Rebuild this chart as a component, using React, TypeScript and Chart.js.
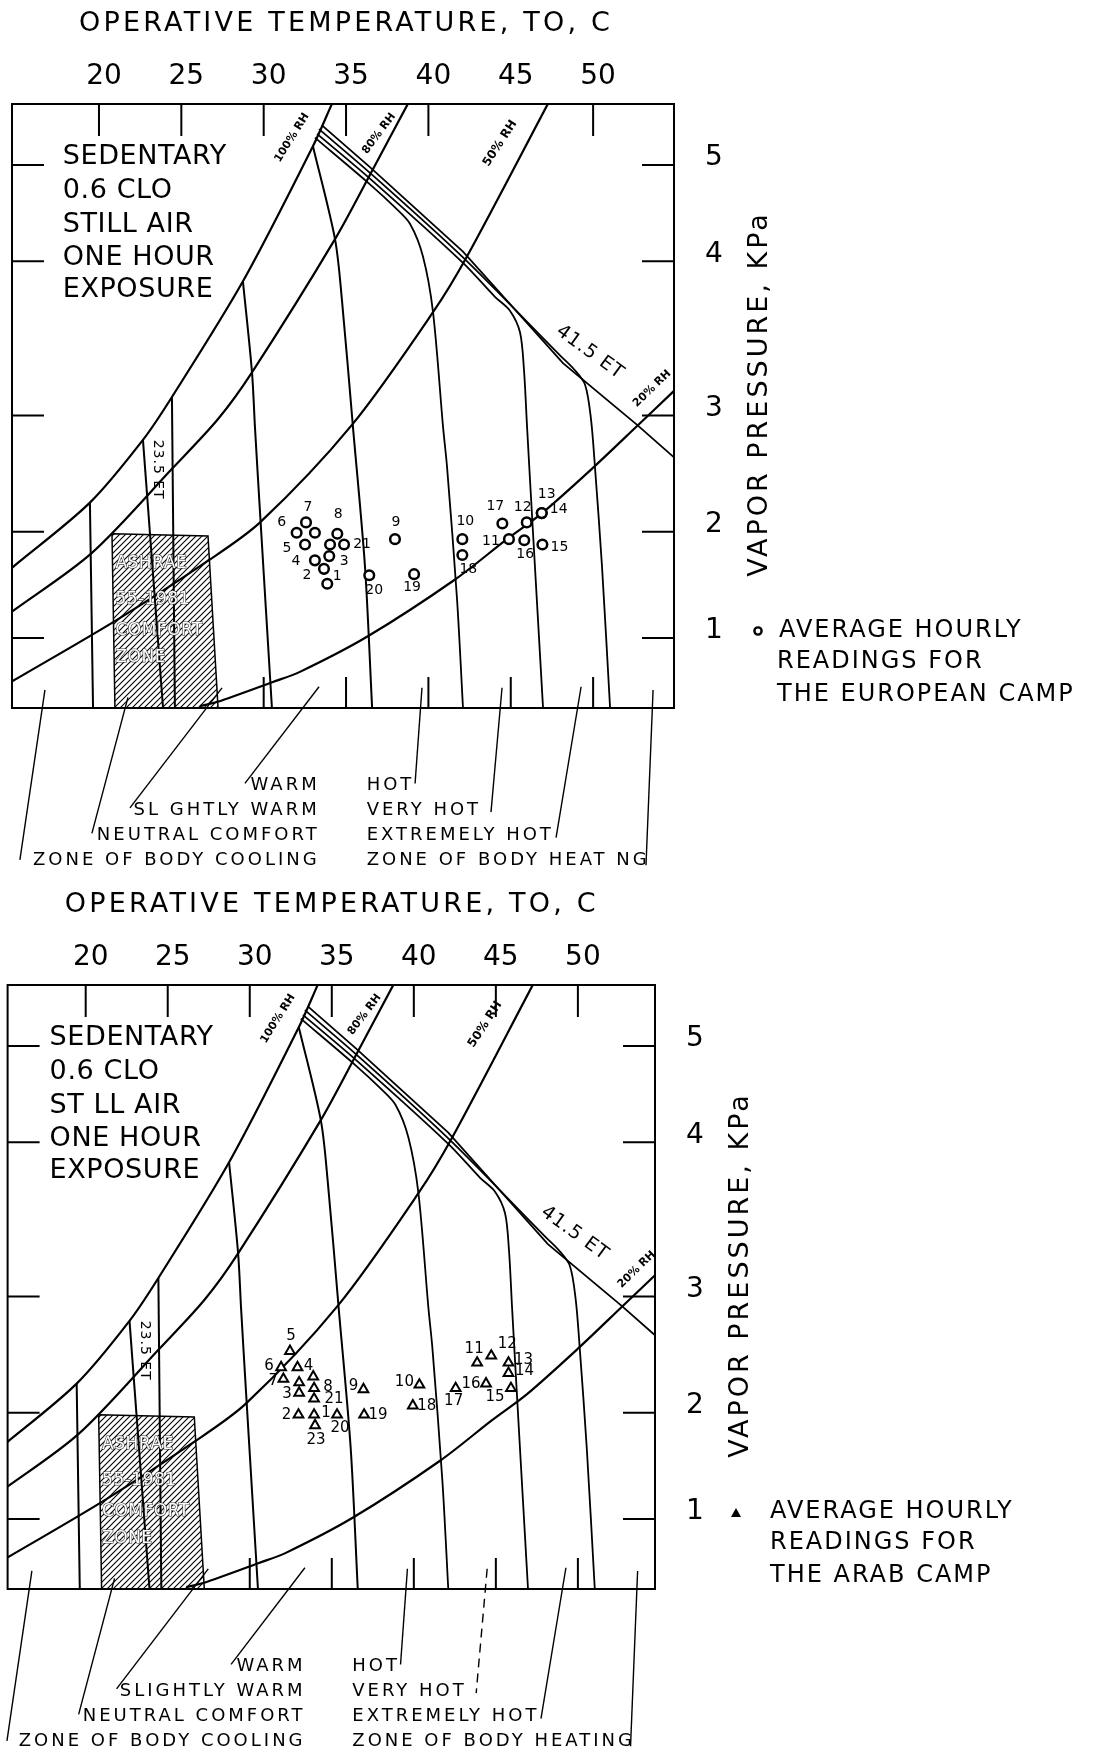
import React, { useEffect, useRef } from 'react';
import { Chart, LinearScale, registerables } from 'chart.js';

// ---------------- axis values ----------------
const TEMP_TICK_LABELS = [20, 25, 30, 35, 40, 45, 50];
const TOP_TICKS_EU = [20, 25, 30, 35, 40, 50];
const TOP_TICKS_AR = [20, 25, 30, 35, 40, 45, 50];
const BOTTOM_TICKS = [30, 35, 40, 45, 50];
const VP_TICKS = [5, 4, 3, 2, 1];
// the printed vapour-pressure axis is not evenly spaced: value (kPa) -> fraction of box height
const VP_KNOT_VALUES = [0.34, 1, 2, 3, 4, 5, 5.646];
const VP_KNOT_FRACTIONS = [0, 0.1161, 0.2919, 0.4842, 0.7396, 0.8988, 1];

// ---------------- chart curves [temperature C, vapour pressure kPa] ----------------
const RH_100 = [[34.15, 5.65], [32.99, 5.2], [28.74, 3.87], [24.43, 3.12], [22.67, 2.79], [19.45, 2.25], [14.72, 1.66]];
const RH_80 = [[38.76, 5.65], [36.64, 4.96], [34.33, 4.23], [29.29, 3.28], [27.23, 2.97], [24.49, 2.55], [19.57, 1.8], [14.66, 1.24]];
const RH_50 = [[47.26, 5.65], [42.34, 4.05], [40.28, 3.67], [35.36, 2.92], [29.78, 2.08], [26.56, 1.72], [21.09, 1.17], [14.66, 0.585]];
const RH_20 = [[54.91, 3.16], [52.67, 2.91], [49.99, 2.55], [46.9, 2.16], [44.77, 1.93], [41.62, 1.55], [36.27, 1.01], [32.2, 0.68], [30.56, 0.585], [27.16, 0.396], [26.13, 0.358]];
const ET_415 = [[33.54, 5.42], [36.45, 4.98], [42.1, 4.1], [48.17, 3.34], [52.67, 2.92], [54.91, 2.64]];
const ET_A = [[19.45, 2.25], [19.64, 0.34]];
const ET_235 = [[22.67, 2.79], [23.89, 0.34]];
const ET_C = [[24.43, 3.12], [24.61, 0.34]];
const ET_D = [[28.74, 3.87], [29.29, 3.28], [29.47, 2.9], [29.78, 2.16], [30.5, 0.34]];
const ET_E = [[32.99, 5.2], [34.33, 4.23], [34.75, 3.75], [35.42, 2.9], [36.15, 1.67], [36.58, 0.35]];
const ET_F = [[33.11, 5.29], [36.45, 4.8], [37.97, 4.56], [38.88, 4.39], [39.67, 4.05], [40.28, 3.67], [40.89, 2.9], [41.13, 2.56], [41.74, 1.36], [42.1, 0.34]];
const ET_G = [[33.24, 5.33], [36.45, 4.86], [42.1, 3.99], [44.04, 3.77], [44.95, 3.68], [45.56, 3.54], [45.8, 3.3], [45.99, 2.9], [46.35, 1.99], [46.96, 0.34]];
const ET_H = [[33.36, 5.38], [36.45, 4.92], [42.1, 4.04], [47.99, 3.39], [48.84, 3.3], [49.51, 3.2], [49.87, 2.97], [50.11, 2.56], [50.54, 1.67], [51.03, 0.34]];
const COMFORT_ZONE = [[20.79, 1.98], [26.62, 1.96], [27.23, 0.34], [20.97, 0.34], [20.79, 1.98]];
const LEAD_COOLING = [[16.72, 0.51], [15.2, -1.09]];
const LEAD_NEUTRAL = [[21.76, 0.44], [19.57, -0.84]];
const LEAD_SLIGHTLY = [[27.47, 0.53], [21.88, -0.6]];
const LEAD_WARM = [[33.36, 0.54], [28.86, -0.37]];
const LEAD_HOT = [[39.61, 0.53], [39.19, -0.37]];
const LEAD_VERYHOT = [[44.47, 0.53], [43.8, -0.64]];
const LEAD_EXTREME = [[49.27, 0.54], [47.75, -0.88]];
const LEAD_HEATING = [[53.64, 0.51], [53.21, -1.14]];

// ---------------- hourly readings ----------------
const EU_LABELS = ['1', '2', '3', '4', '5', '6', '7', '8', '9', '10', '11', '12', '13', '14', '15', '16', '17', '18', '19', '20', '21', '', ''];
const EU_TEMP = [33.86, 33.66, 33.98, 33.11, 32.51, 32.0, 32.57, 34.47, 37.97, 42.06, 44.89, 45.97, 46.88, 46.88, 46.92, 45.82, 44.49, 42.06, 39.13, 36.41, 34.88, 33.11, 34.03];
const EU_VP = [1.51, 1.65, 1.77, 1.73, 1.88, 1.99, 2.08, 1.98, 1.93, 1.93, 1.93, 2.08, 2.16, 2.16, 1.88, 1.92, 2.07, 1.78, 1.6, 1.59, 1.88, 1.99, 1.88];
const AR_LABELS = ['1', '2', '3', '4', '5', '6', '7', '8', '9', '10', '11', '12', '13', '14', '15', '16', '17', '18', '19', '20', '21', '23', '', ''];
const AR_TEMP = [33.92, 32.97, 33.01, 32.91, 32.45, 31.91, 32.05, 33.92, 36.93, 40.34, 43.86, 44.72, 45.77, 45.77, 45.92, 44.4, 42.55, 39.94, 36.97, 35.32, 33.92, 33.98, 33.01, 33.87];
const AR_VP = [1.98, 1.98, 2.17, 2.39, 2.53, 2.39, 2.29, 2.21, 2.2, 2.24, 2.43, 2.49, 2.43, 2.34, 2.21, 2.25, 2.21, 2.06, 1.98, 1.98, 2.12, 1.88, 2.26, 2.31];

// ---------------- texts ----------------
const TITLE = 'OPERATIVE TEMPERATURE, TO, C';
const Y_TITLE = 'VAPOR PRESSURE, KPa';
const SEDENTARY_EU = ['SEDENTARY', '0.6 CLO', 'STILL AIR', 'ONE HOUR', 'EXPOSURE'];
const SEDENTARY_AR = ['SEDENTARY', '0.6 CLO', 'ST LL AIR', 'ONE HOUR', 'EXPOSURE'];
const COOL_EU = ['WARM', 'SL GHTLY WARM', 'NEUTRAL COMFORT', 'ZONE OF BODY COOLING'];
const HEAT_EU = ['HOT', 'VERY HOT', 'EXTREMELY HOT', 'ZONE OF BODY HEAT NG'];
const COOL_AR = ['WARM', 'SLIGHTLY WARM', 'NEUTRAL COMFORT', 'ZONE OF BODY COOLING'];
const HEAT_AR = ['HOT', 'VERY HOT', 'EXTREMELY HOT', 'ZONE OF BODY HEATING'];
const LEGEND_EU = ['AVERAGE HOURLY', 'READINGS FOR', 'THE EUROPEAN CAMP'];
const LEGEND_AR = ['AVERAGE HOURLY', 'READINGS FOR', 'THE ARAB CAMP'];
const COMFORT_TEXT = ['ASHRAE', '55-1981', 'COMFORT', 'ZONE'];

// ---------------- label placement (px offsets, styling only) ----------------
const EU_LABEL_DX = [10, -17, 15, -19, -18, -15, 2, 1, 1, 3, -18, -4, 5, 17, 17, 1, -7, 6, -2, 5, 18, 0, 0];
const EU_LABEL_DY = [-7, 7, 5, 1, 4, -10, -15, -19, -17, -18, 2, -15, -19, -4, 3, 14, -17, 14, 13, 15, 0, 0, 0];
const AR_LABEL_DX = [12, -12, -12, 11, 1, -12, -10, 14, -10, -15, -3, 16, 15, 16, -16, -15, -2, 14, 14, 3, 20, 1, 0, 0];
const AR_LABEL_DY = [-2, 0, 1, -1, -15, -1, 2, -1, -3, -3, -14, -12, -3, -2, 9, 0, 13, 0, 0, 13, 0, 15, 0, 0];

const FONT = "'DejaVu Sans', 'Liberation Sans', sans-serif";

function vpToFraction(v: number): number {
  const V = VP_KNOT_VALUES, F = VP_KNOT_FRACTIONS;
  let i = 0;
  if (v >= V[V.length - 1]) i = V.length - 2;
  else if (v > V[0]) { while (v > V[i + 1]) i++; }
  return F[i] + ((v - V[i]) * (F[i + 1] - F[i])) / (V[i + 1] - V[i]);
}
function fractionToVp(f: number): number {
  const V = VP_KNOT_VALUES, F = VP_KNOT_FRACTIONS;
  let i = 0;
  if (f >= F[F.length - 1]) i = F.length - 2;
  else if (f > F[0]) { while (f > F[i + 1]) i++; }
  return V[i] + ((f - F[i]) * (V[i + 1] - V[i])) / (F[i + 1] - F[i]);
}

class VaporPressureScale extends LinearScale {
  static id = 'vapor';
  getPixelForValue(value: number) {
    return (this as any).getPixelForDecimal(vpToFraction(value));
  }
  getValueForPixel(pixel: number) {
    return fractionToVp((this as any).getDecimalForPixel(pixel));
  }
}
Chart.register(...registerables, VaporPressureScale as any);

type Spec = {
  key: string; top: number; height: number;
  padding: { left: number; top: number; right: number; bottom: number };
  xMin: number; xMax: number; topTicks: number[];
  temp: number[]; vp: number[]; labels: string[]; dx: number[]; dy: number[];
  pointStyle: string; labelFont: number;
  sedentary: string[]; cool: string[]; heat: string[];
  legend: string[]; legendSymbolX: number; legendTextX: number[];
  dashedVeryHot: boolean;
};

const SPEC_EU: Spec = {
  key: 'eu', top: 0, height: 880,
  padding: { left: 12, top: 104, right: 422, bottom: 172 },
  xMin: 14.72, xMax: 54.91, topTicks: TOP_TICKS_EU,
  temp: EU_TEMP, vp: EU_VP, labels: EU_LABELS, dx: EU_LABEL_DX, dy: EU_LABEL_DY,
  pointStyle: 'circle', labelFont: 14,
  sedentary: SEDENTARY_EU, cool: COOL_EU, heat: HEAT_EU,
  legend: LEGEND_EU, legendSymbolX: 758, legendTextX: [779, 777, 777],
  dashedVeryHot: false,
};
const SPEC_AR: Spec = {
  key: 'ar', top: 880, height: 877,
  padding: { left: 0, top: 105, right: 441, bottom: 168 },
  xMin: 15.24, xMax: 54.7, topTicks: TOP_TICKS_AR,
  temp: AR_TEMP, vp: AR_VP, labels: AR_LABELS, dx: AR_LABEL_DX, dy: AR_LABEL_DY,
  pointStyle: 'triangle', labelFont: 15,
  sedentary: SEDENTARY_AR, cool: COOL_AR, heat: HEAT_AR,
  legend: LEGEND_AR, legendSymbolX: 736, legendTextX: [770, 770, 770],
  dashedVeryHot: true,
};

const toXY = (pts: number[][]) => pts.map(([x, y]) => ({ x, y }));

function curve(pts: number[][], extra: any = {}) {
  return {
    data: toXY(pts), showLine: true, pointRadius: 0, borderColor: '#000',
    borderWidth: 2, tension: 0.3, fill: false, ...extra,
  };
}

function text(ctx: CanvasRenderingContext2D, s: string, x: number, y: number, o: any = {}) {
  ctx.save();
  ctx.translate(x, y);
  if (o.rot) ctx.rotate((o.rot * Math.PI) / 180);
  ctx.font = `${o.weight || 'normal'} ${o.size || 16}px ${FONT}`;
  ctx.textAlign = o.align || 'left';
  ctx.textBaseline = 'middle';
  (ctx as any).letterSpacing = `${o.ls || 0}px`;
  if (o.stroke) {
    ctx.lineWidth = o.strokeWidth || 1;
    ctx.strokeStyle = o.stroke;
    ctx.strokeText(s, 0, 0);
  }
  ctx.fillStyle = o.fill || '#000';
  ctx.fillText(s, 0, 0);
  ctx.restore();
}

function makeOverlay(spec: Spec) {
  return {
    id: 'overlay_' + spec.key,
    afterDraw(chart: any) {
      const ctx: CanvasRenderingContext2D = chart.ctx;
      const { left, top, right, bottom } = chart.chartArea;
      const X = (t: number) => chart.scales.x.getPixelForValue(t);
      const Y = (v: number) => chart.scales.y.getPixelForValue(v);
      ctx.save();
      ctx.strokeStyle = '#000';
      ctx.lineWidth = 2;
      ctx.strokeRect(left, top, right - left, bottom - top);
      ctx.beginPath();
      spec.topTicks.forEach((t) => { ctx.moveTo(X(t), top); ctx.lineTo(X(t), top + 32); });
      BOTTOM_TICKS.forEach((t) => { ctx.moveTo(X(t), bottom); ctx.lineTo(X(t), bottom - 31); });
      VP_TICKS.forEach((v) => {
        ctx.moveTo(left, Y(v)); ctx.lineTo(left + 32, Y(v));
        ctx.moveTo(right, Y(v)); ctx.lineTo(right - 32, Y(v));
      });
      ctx.stroke();

      // axis titles and tick labels
      text(ctx, TITLE, X(35), top - 80, { size: 27, ls: 3.2, align: 'center' });
      TEMP_TICK_LABELS.forEach((t) => text(ctx, String(t), X(t) + 5, top - 27, { size: 28, align: 'center' }));
      VP_TICKS.forEach((v) => text(ctx, String(v), right + 40, Y(v) - 7, { size: 28, align: 'center' }));
      text(ctx, Y_TITLE, right + 86, top + 290, { size: 27, ls: 3, align: 'center', rot: -90 });

      // conditions block
      spec.sedentary.forEach((s, i) => text(ctx, s, X(17.8), top + [53, 87, 121, 154, 186][i], { size: 27, ls: 0.6 }));

      // comfort zone caption
      COMFORT_TEXT.forEach((s, i) => text(ctx, s, X(21.0), Y([1.7, 1.36, 1.07, 0.81][i]), {
        size: 17, ls: 0.5, fill: '#fff', stroke: '#333', strokeWidth: 1.2,
      }));

      // curve names
      text(ctx, '100% RH', X(31.72), Y(5.29), { size: 11, rot: -58, align: 'center', weight: 'bold' });
      text(ctx, '80% RH', X(37.0), Y(5.333), { size: 11, rot: -53, align: 'center', weight: 'bold' });
      text(ctx, '50% RH', X(44.35), Y(5.23), { size: 12, rot: -57, align: 'center', weight: 'bold' });
      text(ctx, '20% RH', X(53.58), Y(3.175), { size: 11, rot: -44, align: 'center', weight: 'bold' });
      text(ctx, '41.5 ET', X(49.81), Y(3.409), { size: 19, rot: 36, align: 'center', ls: 1 });
      text(ctx, '23.5 ET', X(23.58), Y(2.534), { size: 14, rot: 90, align: 'center', ls: 1 });

      // sensation scale captions
      spec.cool.forEach((s, i) => text(ctx, s, X(33.4), bottom + [77, 102, 127, 152][i], { size: 18, ls: 3, align: 'right' }));
      spec.heat.forEach((s, i) => text(ctx, s, X(36.25), bottom + [77, 102, 127, 152][i], { size: 18, ls: 3 }));

      // reading labels
      spec.labels.forEach((s, i) => {
        if (!s) return;
        text(ctx, s, X(spec.temp[i]) + spec.dx[i], Y(spec.vp[i]) + spec.dy[i], { size: spec.labelFont, align: 'center' });
      });

      // legend
      const ly = [527, 558, 591];
      ctx.lineWidth = 2.4;
      ctx.strokeStyle = '#000';
      ctx.fillStyle = '#000';
      ctx.beginPath();
      if (spec.pointStyle === 'circle') {
        ctx.arc(spec.legendSymbolX, top + ly[0], 3.6, 0, Math.PI * 2);
        ctx.stroke();
      } else {
        const cx = spec.legendSymbolX, cy = top + ly[0] + 1;
        ctx.moveTo(cx, cy - 5); ctx.lineTo(cx + 5, cy + 4); ctx.lineTo(cx - 5, cy + 4); ctx.closePath();
        ctx.fill();
      }
      spec.legend.forEach((s, i) => text(ctx, s, spec.legendTextX[i], top + ly[i], { size: 24, ls: 2 }));
      ctx.restore();
    },
  };
}

function buildConfig(spec: Spec, pattern: any) {
  const leaderStyle = { borderWidth: 1.4, tension: 0, clip: false };
  const isCircle = spec.pointStyle === 'circle';
  const datasets: any[] = [
    {
      data: spec.temp.map((t, i) => ({ x: t, y: spec.vp[i] })),
      showLine: false,
      pointStyle: spec.pointStyle,
      pointRadius: isCircle ? 4.8 : 5.6,
      pointBorderWidth: isCircle ? 2.5 : 2.0,
      pointBorderColor: '#000',
      pointBackgroundColor: '#fff',
    },
    curve(RH_100, { borderWidth: 2.2 }),
    curve(RH_80, { borderWidth: 2.2 }),
    curve(RH_50, { borderWidth: 2.2 }),
    curve(RH_20, { borderWidth: 2.2 }),
    curve(ET_415, { tension: 0, borderWidth: 1.8 }),
    curve(ET_A, { tension: 0 }),
    curve(ET_235, { tension: 0 }),
    curve(ET_C, { tension: 0 }),
    curve(ET_D),
    curve(ET_E),
    curve(ET_F, { borderWidth: 1.8 }),
    curve(ET_G, { borderWidth: 1.8 }),
    curve(ET_H, { borderWidth: 1.8 }),
    curve(LEAD_COOLING, leaderStyle),
    curve(LEAD_NEUTRAL, leaderStyle),
    curve(LEAD_SLIGHTLY, leaderStyle),
    curve(LEAD_WARM, leaderStyle),
    curve(LEAD_HOT, leaderStyle),
    curve(LEAD_VERYHOT, { ...leaderStyle, borderDash: spec.dashedVeryHot ? [9, 6] : [] }),
    curve(LEAD_EXTREME, leaderStyle),
    curve(LEAD_HEATING, leaderStyle),
    curve(COMFORT_ZONE, { tension: 0, borderWidth: 1.5, fill: 'shape', backgroundColor: pattern }),
  ];
  return {
    type: 'scatter',
    data: { datasets },
    options: {
      responsive: false,
      maintainAspectRatio: false,
      animation: false,
      devicePixelRatio: 1,
      events: [],
      layout: { padding: spec.padding },
      plugins: { legend: { display: false }, tooltip: { enabled: false }, title: { display: false } },
      scales: {
        x: { type: 'linear', min: spec.xMin, max: spec.xMax, display: false },
        y: { type: 'vapor', min: VP_KNOT_VALUES[0], max: VP_KNOT_VALUES[VP_KNOT_VALUES.length - 1], display: false },
      },
    },
    plugins: [makeOverlay(spec)],
  };
}

function hatch() {
  const c = document.createElement('canvas');
  c.width = 6; c.height = 6;
  const g = c.getContext('2d')!;
  g.fillStyle = '#fff';
  g.fillRect(0, 0, 6, 6);
  g.strokeStyle = '#000';
  g.lineWidth = 1.1;
  g.beginPath();
  g.moveTo(-1, 7); g.lineTo(7, -1);
  g.moveTo(-1, 1); g.lineTo(1, -1);
  g.moveTo(5, 7); g.lineTo(7, 5);
  g.stroke();
  return g.createPattern(c, 'repeat');
}

function Panel({ spec }: { spec: Spec }) {
  const ref = useRef<HTMLCanvasElement>(null);
  useEffect(() => {
    const chart = new Chart(ref.current as any, buildConfig(spec, hatch()) as any);
    return () => chart.destroy();
  }, [spec]);
  return (
    <canvas
      ref={ref}
      width={1096}
      height={spec.height}
      style={{ position: 'absolute', left: 0, top: spec.top, width: 1096, height: spec.height, display: 'block' }}
    />
  );
}

export default function App() {
  return (
    <div style={{ position: 'absolute', left: 0, top: 0, width: 1096, height: 1757, background: '#fff', overflow: 'hidden' }}>
      <Panel spec={SPEC_EU} />
      <Panel spec={SPEC_AR} />
    </div>
  );
}
